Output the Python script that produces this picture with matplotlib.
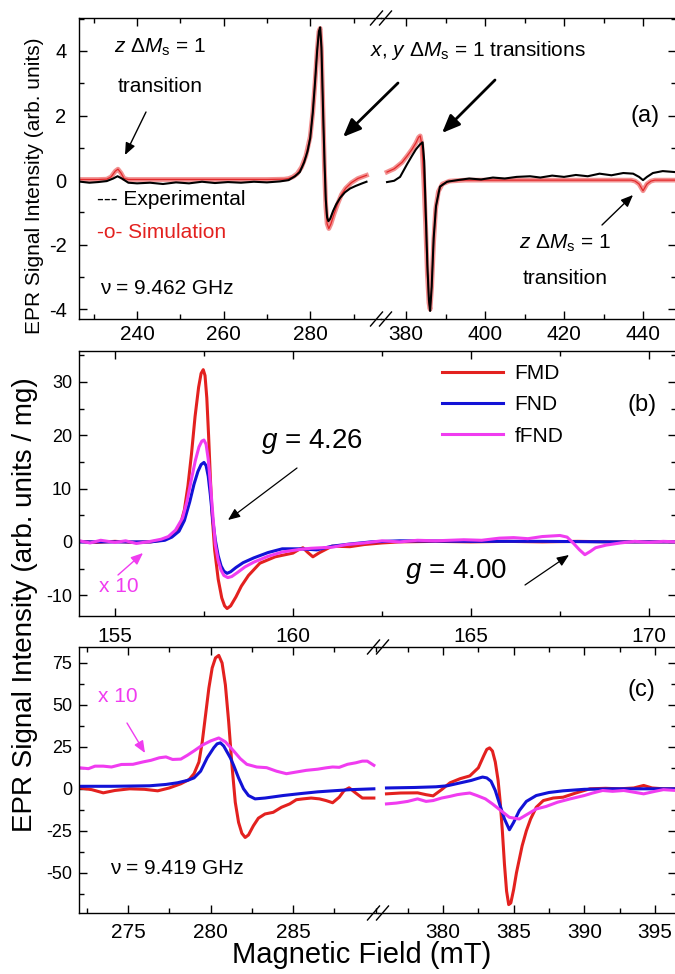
import matplotlib.pyplot as plt
from matplotlib.lines import Line2D
from matplotlib.patches import FancyArrowPatch
from matplotlib.ticker import MultipleLocator, FixedLocator

plt.rcParams['font.family'] = ['Liberation Sans', 'DejaVu Sans']
plt.rcParams['mathtext.fontset'] = 'custom'
plt.rcParams['mathtext.rm'] = 'Liberation Sans'
plt.rcParams['mathtext.it'] = 'Liberation Sans:italic'
plt.rcParams['axes.unicode_minus'] = False

# ---- panel (a): nu = 9.462 GHz, experiment vs simulation ----
a_exp_lo_field = [227, 229, 231, 233, 234.5, 235.5, 236.5, 238, 240, 243, 246, 249, 252, 255,
                  258, 261, 264, 267, 270, 273, 275, 276.5, 277.6, 278.6, 279.4, 280, 280.6,
                  281.1, 281.6, 282.0, 282.3, 282.6, 283.0, 283.3, 283.6, 283.9, 284.2, 284.6,
                  285.3, 286, 286.9, 288, 289.2, 290.5, 292, 293]
a_exp_lo = [-0.05, -0.08, -0.06, -0.03, 0.05, 0.12, 0.05, -0.08, -0.1, -0.08, -0.12, -0.07, -0.1,
            -0.05, -0.09, -0.06, -0.08, -0.05, -0.07, -0.04, 0.0, 0.12, 0.25, 0.55, 0.9, 1.3, 2.1,
            3.0, 4.0, 4.6, 4.73, 4.1, 2.0, 0.6, -0.6, -1.15, -1.27, -1.2, -0.95, -0.75, -0.55,
            -0.38, -0.26, -0.18, -0.1, -0.05]
a_sim_lo_field = [227, 229, 231, 233, 234, 235, 235.6, 236.3, 237, 238, 241, 245, 250, 255, 260,
                  265, 270, 274, 275, 276, 277, 278, 279, 280, 280.6, 281.1, 281.6, 282.0, 282.3,
                  282.6, 283.0, 283.3, 283.6, 283.9, 284.3, 284.8, 285.5, 286.3, 287.2, 288.2,
                  289.5, 291, 293]
a_sim_lo = [0.02, 0.02, 0.02, 0.03, 0.1, 0.28, 0.34, 0.22, 0.05, 0.02, 0.02, 0.02, 0.02, 0.02,
            0.02, 0.02, 0.02, 0.03, 0.05, 0.1, 0.2, 0.4, 0.75, 1.35, 2.1, 3.0, 4.0, 4.6, 4.7, 4.0,
            1.9, 0.3, -0.8, -1.35, -1.5, -1.35, -1.05, -0.75, -0.45, -0.25, -0.08, 0.05, 0.15]
a_exp_hi_field = [375.2, 377, 378.5, 380.3, 381.5, 382.5, 383.5, 384.2, 384.6, 385.0, 385.4,
                  385.8, 386.1, 386.5, 387, 387.6, 388.6, 390.4, 393, 396, 399, 402, 405, 408,
                  411.4, 414, 417, 420, 423, 426, 429, 432, 435, 437.5, 439, 440, 441, 442.5,
                  445, 448]
a_exp_hi = [-0.06, -0.02, 0.1, 0.5, 0.75, 0.95, 1.1, 1.17, 0.6, -1.0, -2.6, -3.7, -4.05, -3.3,
            -1.8, -0.8, -0.2, -0.05, 0.0, 0.05, 0.02, 0.08, 0.05, 0.1, 0.12, 0.08, 0.14, 0.1,
            0.16, 0.12, 0.2, 0.15, 0.22, 0.2, 0.1, 0.0, 0.1, 0.22, 0.28, 0.25]
a_sim_hi_field = [375.2, 377, 379, 380.3, 381.5, 382.5, 383.2, 383.6, 384.0, 384.5, 385.0, 385.4,
                  385.8, 386.1, 386.5, 387, 387.5, 388.2, 389.2, 391, 395, 400, 405, 410, 415,
                  420, 425, 430, 435, 437, 438, 439, 440, 441, 442, 443, 445, 448]
a_sim_hi = [0.25, 0.35, 0.55, 0.75, 0.95, 1.15, 1.33, 1.37, 1.1, 0.0, -1.5, -2.9, -3.8, -4.0,
            -3.3, -1.9, -0.9, -0.35, -0.12, -0.03, 0.0, 0.0, 0.0, 0.0, 0.0, 0.0, 0.0, 0.0, 0.0,
            0.0, -0.03, -0.12, -0.33, -0.12, -0.03, 0.0, 0.0, 0.0]

# ---- panel (b): g = 4.26 region ----
b_fmd_field = [154.0, 154.5, 155.0, 155.5, 156.0, 156.3, 156.5, 156.7, 156.85, 156.95, 157.05,
               157.15, 157.25, 157.35, 157.42, 157.48, 157.53, 157.58, 157.63, 157.68, 157.73,
               157.8, 157.9, 158.0, 158.08, 158.15, 158.25, 158.4, 158.55, 158.75, 159.07, 159.5,
               160.0, 160.15, 160.28, 160.42, 160.56, 160.75, 161.1, 161.6, 162.0, 162.5, 163,
               164, 165, 166, 167, 168, 169, 170, 170.8]
b_fmd = [0.1, -0.1, 0.1, -0.1, 0.0, 0.3, 0.8, 1.8, 3.5, 6, 10.5, 16.5, 23.5, 29, 31.6, 32.3, 31.2,
         27, 20, 12, 5, -1.5, -7, -10.5, -12, -12.5, -12, -10.3, -8.3, -6.3, -4, -2.8, -2.1, -1.5,
         -1.1, -2.0, -2.8, -2.0, -0.8, -0.9, -0.5, -0.2, 0.0, 0.1, 0.0, 0.1, 0.0, 0.1, 0.0, 0.0,
         0.0]
b_fnd_field = [154.0, 155.0, 156.0, 156.4, 156.6, 156.8, 156.95, 157.1, 157.22, 157.33, 157.42,
               157.5, 157.56, 157.62, 157.68, 157.75, 157.82, 157.9, 157.98, 158.06, 158.15,
               158.25, 158.4, 158.6, 158.9, 159.3, 159.7, 160.2, 160.67, 161.1, 161.6, 162.2,
               163, 165, 167, 169, 170.8]
b_fnd = [0.0, 0.0, 0.0, 0.3, 0.9, 2.0, 4, 7.5, 10.8, 13.2, 14.5, 14.9, 14.3, 12.3, 8.8, 4, 0.3,
         -2.6, -4.5, -5.5, -5.9, -5.6, -4.8, -3.9, -3.0, -2.0, -1.3, -1.3, -1.5, -0.8, -0.4, 0.0,
         0.2, 0.1, 0.1, 0.0, 0.0]
b_ffnd_field = [154.0, 154.3, 154.6, 155.0, 155.3, 155.6, 156.0, 156.3, 156.5, 156.7, 156.9,
                157.02, 157.14, 157.26, 157.36, 157.44, 157.5, 157.56, 157.62, 157.68, 157.75,
                157.82, 157.9, 157.98, 158.06, 158.17, 158.28, 158.45, 158.65, 158.9, 159.3,
                159.7, 160.2, 160.5, 161.1, 161.5, 162.0, 162.5, 163, 163.5, 164, 164.8, 165.3,
                165.8, 166.2, 166.6, 167.0, 167.5, 167.7, 167.87, 168.05, 168.2, 168.35, 168.5,
                168.8, 169.2, 169.6, 170.0, 170.4, 170.8]
b_ffnd = [0.2, -0.2, 0.3, -0.1, 0.2, -0.3, 0.1, 0.5, 1.0, 2.2, 4.5, 7.5, 11.5, 15.3, 17.8, 18.9,
          19.1, 18.3, 15.5, 11, 5, -0.5, -3.5, -5.3, -6.3, -6.7, -6.5, -5.7, -4.7, -3.8, -2.7,
          -1.9, -1.4, -1.2, -1.0, -0.5, -0.2, 0.2, 0.0, 0.3, 0.2, 0.4, 0.3, 0.7, 0.8, 0.6, 1.0,
          1.2, 0.9, -0.2, -1.5, -2.4, -1.8, -1.1, -0.6, -0.2, 0.1, -0.1, 0.1, 0.0]

# ---- panel (c): nu = 9.419 GHz ----
c_fmd_lo_field = [272.0, 272.8, 273.5, 274.2, 275.1, 276.0, 276.8, 277.5, 278.2, 278.7, 279.0,
                  279.3, 279.5, 279.7, 279.9, 280.1, 280.3, 280.5, 280.7, 280.9, 281.1, 281.3,
                  281.5, 281.7, 281.9, 282.1, 282.3, 282.6, 282.9, 283.3, 283.8, 284.3, 284.8,
                  285.2, 285.6, 286.1, 286.6, 287.0, 287.4, 287.8, 288.1, 288.4, 288.8, 289.2,
                  289.9]
c_fmd_lo = [0.6, -0.5, -2.4, -1.0, 0.0, -0.3, -1.2, 0.5, 3.0, 5.5, 9, 16, 28, 44, 60, 72, 78,
            79.5, 75, 62, 40, 14, -8, -20, -26.5, -29, -27.5, -22, -17.5, -15, -14, -11, -9, -6.5,
            -6, -5.5, -6, -7, -8.3, -5, -1, 0.6, -2.5, -5.5, -5.5]
c_fmd_hi_field = [376.0, 377.0, 378.2, 378.8, 379.3, 379.9, 380.5, 381.2, 381.9, 382.5, 382.9,
                  383.1, 383.3, 383.5, 383.7, 383.9, 384.05, 384.2, 384.35, 384.5, 384.65, 384.8,
                  385.0, 385.2, 385.4, 385.6, 385.9, 386.2, 386.6, 387.1, 387.8, 388.5, 389.4,
                  390.4, 391.5, 392.5, 393.5, 394.2, 394.8, 395.6, 396.5]
c_fmd_hi = [-3, -2.5, -2.4, -3.5, -4.2, -0.5, 3.6, 6, 7.7, 12.5, 20, 23.5, 24.4, 22.5, 16, 5, -8,
            -25, -45, -61, -69, -68, -60, -50, -42, -34, -25, -18, -11, -7, -5.5, -5, -2.5, 0,
            0.3, 0, 0.5, 2, 0.5, 0, 0]
c_fnd_lo_field = [272.0, 274.0, 276.3, 277.3, 278.0, 278.6, 279.0, 279.4, 279.8, 280.2, 280.4,
                  280.6, 280.8, 281.0, 281.2, 281.4, 281.7, 282.0, 282.3, 282.7, 283.3, 284.4,
                  285.5, 286.5, 287.4, 288.5, 289.9]
c_fnd_lo = [1.5, 1.5, 1.8, 2.6, 3.6, 5.0, 6.5, 10.5, 18.5, 24.5, 26.8, 27.4, 25.5, 22, 18.5, 14,
            6.5, 0, -4, -6, -5.5, -4, -2.8, -1.8, -1.2, -0.5, 0]
c_fnd_hi_field = [376.0, 378.0, 379.5, 380.3, 381.2, 382.0, 382.5, 382.8, 383.1, 383.4, 383.7,
                  384.0, 384.35, 384.7, 385.0, 385.4, 385.9, 386.6, 387.5, 388.5, 390.0, 392.0,
                  396.5]
c_fnd_hi = [0.5, 0.8, 1.2, 1.8, 3.5, 5, 6.3, 7, 6.5, 4.5, -1, -9, -18, -24.4, -20, -13, -7.5,
            -4, -2.2, -1.2, -0.3, 0, 0]
c_ffnd_lo_field = [272.0, 272.6, 273.0, 273.5, 274.0, 274.6, 275.3, 275.9, 276.4, 276.9, 277.3,
                   277.7, 278.2, 278.6, 279.0, 279.5, 280.0, 280.5, 280.9, 281.4, 281.8, 282.2,
                   282.8, 283.4, 284.0, 284.6, 285.2, 285.8, 286.5, 287.0, 287.4, 287.8, 288.3,
                   288.8, 289.2, 289.5, 289.9]
c_ffnd_lo = [12.6, 12.0, 13.5, 13.5, 13, 14.5, 14.6, 16, 17, 18.5, 19, 17.5, 17.7, 20, 22.6, 26,
             28.5, 30.3, 28, 22.6, 18, 14.6, 13, 12.6, 10.5, 9, 10, 11, 11.7, 12.5, 13, 12.8,
             14.6, 15.5, 16.5, 16.5, 14]
c_ffnd_hi_field = [376.0, 376.7, 377.5, 378.2, 378.8, 379.3, 379.9, 380.5, 381.0, 381.4, 381.9,
                   382.4, 383.0, 383.5, 384.1, 384.7, 385.4, 386.0, 386.6, 387.3, 388.1, 389.0,
                   390.0, 390.6, 391.3, 392.0, 392.8, 393.5, 394.2, 395.0, 395.6, 396.5]
c_ffnd_hi = [-9, -8.5, -7.5, -6, -7.5, -7, -5.5, -4.5, -3.5, -3, -2.5, -4, -6, -9, -13, -17, -18,
             -15, -12, -10.5, -8, -6, -4, -2.5, -1, -1.5, -1, -2, -3, -1.5, -0.5, -1]

sample_names = ['FMD', 'FND', 'fFND']
sample_colors = ['#e3211f', '#1212d6', '#f03cf0']
a_xticks_lo = [240, 260, 280]
c_xticks_lo = [275, 280, 285]

W, H = 675, 974
fig = plt.figure(figsize=(W / 100, H / 100), dpi=100)


def box(l, t, r, b):
    return [l / W, 1 - b / H, (r - l) / W, (b - t) / H]


def pt(x, y):
    return (x / W, 1 - y / H)


def style(ax, xmaj, xmin, ymaj, ymin, xsize, ysize, xpad, ypad):
    ax.xaxis.set_major_locator(MultipleLocator(xmaj))
    ax.xaxis.set_minor_locator(MultipleLocator(xmin))
    ax.yaxis.set_major_locator(MultipleLocator(ymaj))
    ax.yaxis.set_minor_locator(MultipleLocator(ymin))
    ax.tick_params(which='both', direction='in', top=True, right=True, width=1)
    ax.tick_params(which='major', length=6)
    ax.tick_params(which='minor', length=3.5)
    ax.tick_params(axis='x', labelsize=xsize, pad=xpad)
    ax.tick_params(axis='y', labelsize=ysize, pad=ypad)
    ax.set_facecolor('none')
    for s in ax.spines.values():
        s.set_linewidth(1)


def split(ax1, ax2):
    ax1.spines['right'].set_visible(False)
    ax1.tick_params(which='both', right=False)
    ax2.spines['left'].set_visible(False)
    ax2.tick_params(which='both', left=False, labelleft=False)


def brk(x, y):
    for dx in (-4.5, 4.5):
        fig.add_artist(Line2D([(x + dx - 6) / W, (x + dx + 6) / W],
                              [1 - (y + 7) / H, 1 - (y - 7) / H], color='black', lw=1))


def arrow(x0, y0, x1, y1, color='black', lw=1.0, scale=12):
    fig.add_artist(FancyArrowPatch(pt(x0, y0), pt(x1, y1), transform=fig.transFigure,
                                   arrowstyle='-|>,head_length=0.6,head_width=0.25',
                                   mutation_scale=scale, color=color, lw=lw,
                                   shrinkA=0, shrinkB=0))


# panel (a)
aa1 = fig.add_axes(box(79, 18, 381, 319))
aa2 = fig.add_axes(box(381, 18, 676, 319))
for ax, fs, vs, fe, ve in [(aa1, a_sim_lo_field, a_sim_lo, a_exp_lo_field, a_exp_lo),
                           (aa2, a_sim_hi_field, a_sim_hi, a_exp_hi_field, a_exp_hi)]:
    ax.plot(fs, vs, color='#f29090', lw=3.4)
    ax.plot(fs, vs, color='#e3282a', lw=0.9)
    ax.plot(fe, ve, color='black', lw=1.5)
    ax.set_ylim(-4.3, 5.02)
    style(ax, 20, 10, 2, 1, 15, 14.5, 4, 9)
aa1.set_xlim(226.6, 296.35)
aa2.set_xlim(373.67, 448.35)
aa1.xaxis.set_major_locator(FixedLocator(a_xticks_lo))
split(aa1, aa2)

# panel (b)
ab = fig.add_axes(box(79, 351, 676, 616))
for f, v, name, col in zip([b_fmd_field, b_fnd_field, b_ffnd_field], [b_fmd, b_fnd, b_ffnd],
                           sample_names, sample_colors):
    ab.plot(f, v, color=col, lw=2.2, label=name)
ab.set_xlim(153.99, 170.76)
ab.set_ylim(-13.9, 35.8)
style(ab, 5, 2.5, 10, 5, 15, 13, 8, 5)

# panel (c)
ac1 = fig.add_axes(box(79, 647, 378, 913))
ac2 = fig.add_axes(box(378, 647, 676, 913))
for f, v, col in zip([c_fmd_lo_field, c_fnd_lo_field, c_ffnd_lo_field],
                     [c_fmd_lo, c_fnd_lo, c_ffnd_lo], sample_colors):
    ac1.plot(f, v, color=col, lw=2.2)
for f, v, col in zip([c_fmd_hi_field, c_fnd_hi_field, c_ffnd_hi_field],
                     [c_fmd_hi, c_fnd_hi, c_ffnd_hi], sample_colors):
    ac2.plot(f, v, color=col, lw=2.2)
for ax in (ac1, ac2):
    ax.set_ylim(-74, 84.5)
    style(ax, 5, 2.5, 25, 12.5, 15, 13, 7, 5)
ac1.set_xlim(272.03, 290.15)
ac2.set_xlim(375.4, 396.49)
ac1.xaxis.set_major_locator(FixedLocator(c_xticks_lo))
split(ac1, ac2)

# axis breaks
brk(381, 18)
brk(381, 319)
brk(378, 647)
brk(378, 913)

# labels
fig.text(*pt(35, 186), 'EPR Signal Intensity (arb. units)', rotation=90, ha='center',
         va='center', fontsize=15)
fig.text(*pt(25, 605), 'EPR Signal Intensity (arb. units / mg)', rotation=90, ha='center',
         va='center', fontsize=20)
fig.text(*pt(362, 955), 'Magnetic Field (mT)', ha='center', va='center', fontsize=21)

# panel (a) annotations
fig.text(*pt(160, 47), r'$z\ \Delta M_{\rm s}$ = 1', ha='center', va='center', fontsize=15)
fig.text(*pt(160, 86), 'transition', ha='center', va='center', fontsize=15)
arrow(146, 112, 125, 155)
fig.text(*pt(478, 51), r'$x$, $y$ $\Delta M_{\rm s}$ = 1 transitions', ha='center',
         va='center', fontsize=15)
arrow(398, 83, 343, 137, lw=2, scale=18)
arrow(495, 80, 442, 133, lw=2, scale=18)
fig.text(*pt(645, 116), '(a)', ha='center', va='center', fontsize=17)
fig.text(*pt(565, 243), r'$z\ \Delta M_{\rm s}$ = 1', ha='center', va='center', fontsize=15)
fig.text(*pt(565, 279), 'transition', ha='center', va='center', fontsize=15)
arrow(602, 225, 633, 195)
fig.text(*pt(97, 200), '--- Experimental', ha='left', va='center', fontsize=15)
fig.text(*pt(97, 233), '-o- Simulation', ha='left', va='center', fontsize=15, color='#e3211f')
fig.text(*pt(100, 289), 'ν = 9.462 GHz', ha='left', va='center', fontsize=15)

# panel (b) annotations
fig.legend(*ab.get_legend_handles_labels(), loc='upper left', bbox_to_anchor=pt(442, 364),
           frameon=False, fontsize=15, handlelength=2.93, handletextpad=0.55,
           labelspacing=0.59, borderpad=0, borderaxespad=0)
fig.text(*pt(642, 405), '(b)', ha='center', va='center', fontsize=17)
fig.text(*pt(312, 442), r'$g$ = 4.26', ha='center', va='center', fontsize=20)
arrow(297, 468, 228, 520, lw=0.9)
fig.text(*pt(456, 572), r'$g$ = 4.00', ha='center', va='center', fontsize=20)
arrow(525, 585, 569, 555, lw=0.9)
fig.text(*pt(119, 587), 'x 10', ha='center', va='center', fontsize=15, color=sample_colors[2])
arrow(118, 575, 143, 553, color=sample_colors[2], lw=1)

# panel (c) annotations
fig.text(*pt(641, 690), '(c)', ha='center', va='center', fontsize=17)
fig.text(*pt(118, 697), 'x 10', ha='center', va='center', fontsize=15, color=sample_colors[2])
arrow(127, 723, 145, 753, color=sample_colors[2], lw=1)
fig.text(*pt(110, 869), 'ν = 9.419 GHz', ha='left', va='center', fontsize=15)

fig.savefig('out.png', dpi=100)
